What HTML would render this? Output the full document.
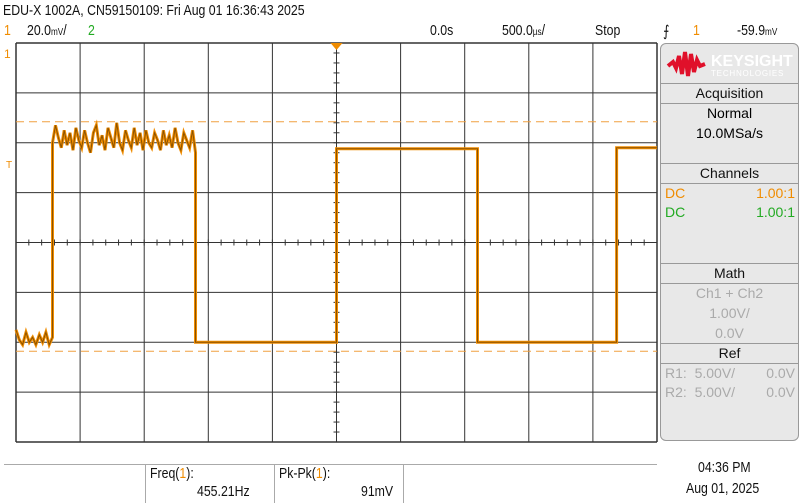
<!DOCTYPE html>
<html><head><meta charset="utf-8">
<style>
body{margin:0;width:800px;height:503px;background:#fff;overflow:hidden;font-family:"Liberation Sans",sans-serif;position:relative}
.t{position:absolute;font-size:15px;color:#111;white-space:nowrap;transform:scaleX(0.82);transform-origin:left top}
.panel{position:absolute;left:660px;top:43px;width:137px;height:396px;background:#e8e8e8;border:1px solid #999;border-radius:6px;overflow:hidden}
.hdr{position:absolute;left:0;width:137px;height:19px;border-top:1px solid #999;border-bottom:1px solid #999;text-align:center;font-size:14px;line-height:19px;color:#111}
.pt{position:absolute;font-size:14px;white-space:nowrap}
</style></head><body>
<div class="t" style="left:3px;top:2px">EDU-X 1002A, CN59150109: Fri Aug 01 16:36:43 2025</div>
<div class="t" style="left:4px;top:22px;color:#f08c00">1</div>
<div class="t" style="left:27px;top:22px">20.0<span style="font-size:10px">mV</span>/</div>
<div class="t" style="left:88px;top:22px;color:#2a2">2</div>
<div class="t" style="left:430px;top:22px">0.0s</div>
<div class="t" style="left:502px;top:22px">500.0<span style="font-size:10px">µs</span>/</div>
<div class="t" style="left:595px;top:22px">Stop</div>
<div class="t" style="left:663px;top:22px">⨍</div>
<div class="t" style="left:693px;top:22px;color:#f08c00">1</div>
<div class="t" style="left:737px;top:22px">-59.9<span style="font-size:10px">mV</span></div>

<svg id="scope" width="800" height="503" style="position:absolute;left:0;top:0">
<g id="grid"></g><g id="wave"></g>
</svg>

<div class="panel">
 <svg width="137" height="40" style="position:absolute;left:0;top:0">
  <path d="M7,22 L12,18 L15,24 L18,12 L21,30 L24,8 L27,32 L30,10 L33,28 L36,16 L39,22 L44,20" stroke="#e0102a" stroke-width="4" fill="none"/>
  <text x="50" y="22" font-size="16" font-weight="bold" fill="#fff" font-family="Liberation Sans">KEYSIGHT</text>
  <text x="50" y="32" font-size="8" fill="#fff" font-family="Liberation Sans" letter-spacing="0.8">TECHNOLOGIES</text>
 </svg>
 <div class="hdr" style="top:39px">Acquisition</div>
 <div class="pt" style="left:0;width:137px;text-align:center;top:61px">Normal</div>
 <div class="pt" style="left:0;width:137px;text-align:center;top:81px">10.0MSa/s</div>
 <div class="hdr" style="top:119px">Channels</div>
 <div class="pt" style="left:4px;top:141px;color:#f08c00">DC</div>
 <div class="pt" style="right:3px;top:141px;color:#f08c00">1.00:1</div>
 <div class="pt" style="left:4px;top:160px;color:#2a2">DC</div>
 <div class="pt" style="right:3px;top:160px;color:#2a2">1.00:1</div>
 <div class="hdr" style="top:219px">Math</div>
 <div class="pt" style="left:0;width:137px;text-align:center;top:241px;color:#aaa">Ch1 + Ch2</div>
 <div class="pt" style="left:0;width:137px;text-align:center;top:261px;color:#aaa">1.00V/</div>
 <div class="pt" style="left:0;width:137px;text-align:center;top:281px;color:#aaa">0.0V</div>
 <div class="hdr" style="top:299px">Ref</div>
 <div class="pt" style="left:4px;top:321px;color:#aaa">R1:&nbsp; 5.00V/</div>
 <div class="pt" style="right:3px;top:321px;color:#aaa">0.0V</div>
 <div class="pt" style="left:4px;top:340px;color:#aaa">R2:&nbsp; 5.00V/</div>
 <div class="pt" style="right:3px;top:340px;color:#aaa">0.0V</div>
</div>

<div style="position:absolute;left:4px;top:464px;width:653px;height:1px;background:#aaa"></div>
<div style="position:absolute;left:145px;top:465px;width:1px;height:38px;background:#aaa"></div>
<div style="position:absolute;left:274px;top:465px;width:1px;height:38px;background:#aaa"></div>
<div style="position:absolute;left:403px;top:465px;width:1px;height:38px;background:#aaa"></div>
<div class="t" style="left:150px;top:465px">Freq(<span style="color:#f08c00">1</span>):</div>
<div class="t" style="left:197px;top:483px">455.21Hz</div>
<div class="t" style="left:279px;top:465px">Pk-Pk(<span style="color:#f08c00">1</span>):</div>
<div class="t" style="left:361px;top:483px">91mV</div>
<div class="t" style="left:698px;top:459px">04:36 PM</div>
<div class="t" style="left:686px;top:480px">Aug 01, 2025</div>

<script>
// waveform data: time in ms, level in mV
const segStart=[-2.5,-2.215,-1.1,0,1.1,2.185];
const segEnd=[-2.215,-1.1,0,1.1,2.185,2.5];
const segLevel=[-38,null,-40,37.6,-40,38];
const burst=[40,47,42,38,45,39,44,37,46,41,38,45,40,36,44,47,39,43,37,46,42,38,48,40,37,45,41,38,46,39,44,37,45,40,38,44,41,37,45,39,43,38,46,40,37,44,41,38,45,36];
const lowRipple=[-35,-39,-41,-36,-40,-38,-41,-37,-40,-36,-41,-38];
const dashLevels=[48.4,-43.6];

const svg=document.getElementById('scope'),G=document.getElementById('grid'),W=document.getElementById('wave');
const L=16,R=657,T=43,B=442,CX=(L+R)/2,CY=(T+B)/2;
const xs=t=>CX+t/0.5*(R-L)/10;
const ys=v=>CY-v/20*(B-T)/8;
const NS='http://www.w3.org/2000/svg';
function mk(tag,at,par){const e=document.createElementNS(NS,tag);for(const k in at)e.setAttribute(k,at[k]);par.appendChild(e);return e;}
for(let i=0;i<=10;i++){const x=L+i*(R-L)/10;const e=mk('line',{x1:x,x2:x,y1:T,y2:B,stroke:'#333','stroke-width':i==0||i==10?1.5:1},G);

}
for(let j=0;j<=8;j++){const y=T+j*(B-T)/8;const e=mk('line',{x1:L,x2:R,y1:y,y2:y,stroke:'#333','stroke-width':j==0||j==8?1.5:1},G);

}
for(let k=0;k<=50;k++){const x=L+k*(R-L)/50;mk('line',{x1:x,x2:x,y1:CY-3,y2:CY+3,stroke:'#333'},G);}
for(let k=0;k<=40;k++){const y=T+k*(B-T)/40;mk('line',{x1:CX-3,x2:CX+3,y1:y,y2:y,stroke:'#333'},G);}
dashLevels.forEach(v=>{const e=mk('line',{x1:L,x2:R,y1:ys(v),y2:ys(v),stroke:'#f0a040','stroke-dasharray':'8,5'},G);

});
// markers
const tm=mk('polygon',{points:`${CX-6},${T} ${CX+6},${T} ${CX},${T+7}`,fill:'#f08c00'},G);


const gt=mk('text',{x:4,y:58,fill:'#f08c00','font-size':12,'font-family':'Liberation Sans'},G);gt.textContent='1';


const tl=mk('text',{x:6,y:168,fill:'#f08c00','font-size':10,'font-family':'Liberation Sans'},G);tl.textContent='T';


// build waveform points
let pts=[];
segStart.forEach((s,i)=>{
  const e=segEnd[i];
  if(segLevel[i]===null){burst.forEach((v,k)=>pts.push([s+(e-s)*k/(burst.length-1),v]));}
  else if(i===0){lowRipple.forEach((v,k)=>pts.push([s+(e-s)*k/(lowRipple.length-1),v]));}
  else{pts.push([s,segLevel[i]]);pts.push([e,segLevel[i]]);}
});
const d=pts.map((p,i)=>(i?'L':'M')+xs(p[0]).toFixed(1)+','+ys(p[1]).toFixed(1)).join(' ');
const w1=mk('path',{d:d,stroke:'#f08c00','stroke-width':3,fill:'none'},W);


mk('path',{d:d,stroke:'#8a5200','stroke-width':1,fill:'none'},W);
</script>
</body></html>
